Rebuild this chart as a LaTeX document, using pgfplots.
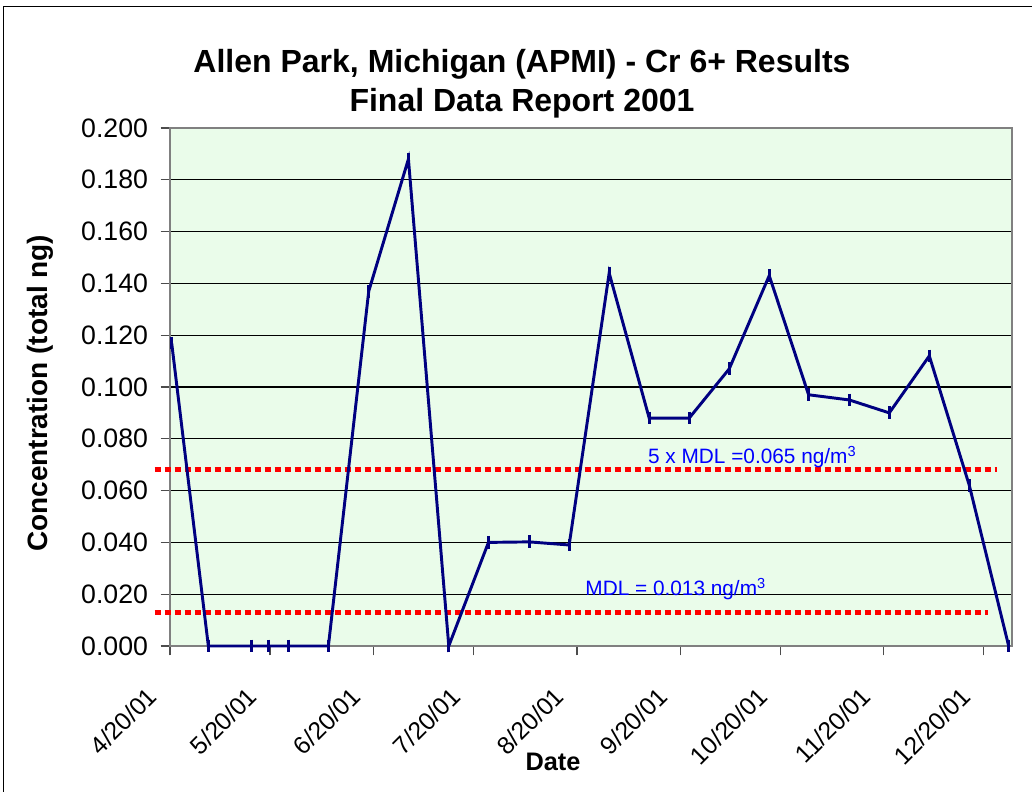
\documentclass[border=0pt]{standalone}
\usepackage{fontspec}
\setmainfont{Liberation Sans}
\usepackage{pgfplots}
\pgfplotsset{compat=1.18}
\definecolor{navyline}{RGB}{0,0,128}
\definecolor{bggreen}{RGB}{234,252,234}
\definecolor{mdlred}{RGB}{255,0,0}
\definecolor{lblblue}{RGB}{0,0,255}
\definecolor{bordergray}{RGB}{128,128,128}
\tikzset{xl/.style={rotate=45, anchor=north east, inner sep=0pt, font=\fontsize{18.5}{22}\selectfont}}
\begin{document}
\begin{tikzpicture}
\useasboundingbox (0,0) rectangle (774pt,594pt);
\draw[line width=1pt] (2.5pt,-2pt) -- (2.5pt,589pt) -- (776pt,589pt);
\begin{axis}[
  at={(127.5pt,109.5pt)}, anchor=south west,
  width=631.5pt, height=388.5pt, scale only axis,
  xmin=0, xmax=252.5, ymin=0, ymax=0.2,
  xtick={0,30,61,91,122,153,183,214,244},
  xticklabels={},
  ytick={0,0.02,0.04,0.06,0.08,0.1,0.12,0.14,0.16,0.18,0.2},
  clip=false,
  axis background/.style={fill=bggreen},
  ymajorgrids, major grid style={black, line width=0.8pt},
  axis line style={bordergray, line width=1.5pt},
  tick style={black!70, line width=1pt},
  tick align=outside, major tick length=7pt,
  xtick pos=left, ytick pos=left,
  /pgf/number format/assume math mode=true,
  yticklabel style={/pgf/number format/.cd, fixed, fixed zerofill, precision=3, /tikz/.cd, font=\fontsize{20}{24}\selectfont, xshift=-6pt},
]
\addplot[mdlred, line width=3.75pt, dash pattern=on 4.5pt off 3pt] coordinates {(-4.6,0.068) (248,0.068)};
\addplot[mdlred, line width=3.75pt, dash pattern=on 4.5pt off 3pt] coordinates {(-4.6,0.013) (245.4,0.013)};
\addplot[navyline, line width=2.2pt, mark=|, mark size=4.8pt, mark options={line width=2.2pt, solid}] coordinates {
(0.5,0.117) (11.5,0) (24.4,0) (29.6,0) (35.5,0) (47.5,0) (59.6,0.137) (71.5,0.188)
(83.6,0) (95.5,0.040) (107.7,0.0402) (119.7,0.039) (131.7,0.144) (143.7,0.088)
(155.7,0.088) (167.7,0.107) (179.7,0.143) (191.5,0.097) (203.7,0.095) (215.7,0.090)
(227.7,0.112) (239.7,0.062) (251.5,0)};
\node[lblblue, anchor=base west, inner sep=0pt, font=\fontsize{15.6}{18}\selectfont] at (axis cs:143.3,0.0705) {5 x MDL =0.065 ng/m\textsuperscript{3}};
\node[lblblue, anchor=base west, inner sep=0pt, font=\fontsize{15.6}{18}\selectfont] at (axis cs:124.5,0.0196) {MDL = 0.013 ng/m\textsuperscript{3}};
\node[xl] at ([xshift=-18pt,yshift=-29.5pt]axis cs:0,0) {4/20/01};
\node[xl] at ([xshift=-18pt,yshift=-29.5pt]axis cs:30,0) {5/20/01};
\node[xl] at ([xshift=-18pt,yshift=-29.5pt]axis cs:61,0) {6/20/01};
\node[xl] at ([xshift=-18pt,yshift=-29.5pt]axis cs:91,0) {7/20/01};
\node[xl] at ([xshift=-18pt,yshift=-29.5pt]axis cs:122,0) {8/20/01};
\node[xl] at ([xshift=-18pt,yshift=-29.5pt]axis cs:153,0) {9/20/01};
\node[xl] at ([xshift=-18pt,yshift=-29.5pt]axis cs:183,0) {10/20/01};
\node[xl] at ([xshift=-18pt,yshift=-29.5pt]axis cs:214,0) {11/20/01};
\node[xl] at ([xshift=-18pt,yshift=-29.5pt]axis cs:244,0) {12/20/01};
\end{axis}
\node[font=\bfseries\fontsize{24}{28}\selectfont] at (391.5pt,546pt) {Allen Park, Michigan (APMI) - Cr 6+ Results};
\node[font=\bfseries\fontsize{24}{28}\selectfont] at (391.5pt,516.75pt) {Final Data Report 2001};
\node[font=\bfseries\fontsize{21}{25}\selectfont, rotate=90] at (30pt,299pt) {Concentration (total ng)};
\node[font=\bfseries\fontsize{19}{23}\selectfont] at (414.75pt,22.5pt) {Date};
\end{tikzpicture}
\end{document}
